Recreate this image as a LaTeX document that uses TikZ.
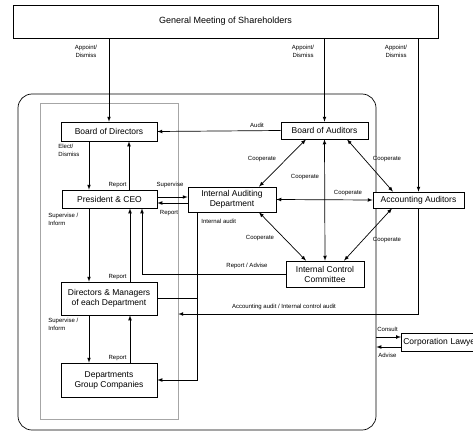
\documentclass[tikz,border=0pt]{standalone}
\usepackage{fontspec}
\setmainfont{Liberation Sans}
\begin{document}
\begin{tikzpicture}[>=latex, x=1pt, y=-1pt, line width=0.7pt,
  box/.style={draw, fill=white, inner sep=1pt, align=center, font=\fontsize{8.5}{10}\selectfont},
  lbl/.style={font=\fontsize{6}{8}\selectfont, inner sep=0pt, align=left}]
\useasboundingbox (0,0) rectangle (473,436);
\clip (0,0) rectangle (473,436);
% frames
\node[draw, rounded corners=14pt, minimum width=358pt, minimum height=336pt] (org) at (197,262) {};
\node[draw=gray!70, line width=0.5pt, minimum width=138pt, minimum height=316pt] (grp) at (109,261) {};
% boxes
\node[box, minimum width=425pt, minimum height=33pt, font=\fontsize{9}{11}\selectfont] (gms) at (225.5,21.5) {General Meeting of Shareholders};
\node[box, minimum width=96pt, minimum height=19pt] (bod) at (109,131.5) {Board of Directors};
\node[box, minimum width=95pt, minimum height=18pt] (pres) at (109.5,199) {President \& CEO};
\node[box, minimum width=96pt, minimum height=33pt] (dm) at (109,298.5) {Directors \& Managers\\of each Department};
\node[box, minimum width=96pt, minimum height=34pt] (dep) at (109,380) {Departments\\Group Companies};
\node[box, minimum width=87pt, minimum height=17pt] (boa) at (324.5,130.5) {Board of Auditors};
\node[box, minimum width=88pt, minimum height=25pt] (iad) at (232,199.5) {Internal Auditing\\Department};
\node[box, minimum width=91pt, minimum height=16pt] (aa) at (418.5,200) {Accounting Auditors};
\node[box, minimum width=78pt, minimum height=26pt] (icc) at (325,274) {Internal Control\\Committee};
\node[box, anchor=west, text width=84pt, minimum height=18pt, align=left, inner xsep=2pt] (law) at (401,342) {Corporation Lawyer};

% appointment
\draw[->] (gms.south -| bod.north) -- (bod.north);
\draw[->] (gms.south -| boa.north) -- (boa.north);
\draw[->] (gms.south -| aa.north) -- (aa.north);
\node[lbl, align=center] at (86,51) {Appoint/\\Dismiss};
\node[lbl, align=center] at (303,51) {Appoint/\\Dismiss};
\node[lbl, align=center] at (396,51) {Appoint/\\Dismiss};

% left column
\draw[->] (boa.west) -- (bod.east);
\node[lbl] at (257,125) {Audit};
\draw[->] (bod.south -| 89,0) -- (pres.north -| 89,0);
\node[lbl, anchor=north west] at (58,144) {Elect/\\Dismiss};
\draw[->] (pres.north -| 129,0) -- (bod.south -| 129,0);
\node[lbl, anchor=south east] at (127,188) {Report};
\draw[->] (pres.south -| 89,0) -- (dm.north -| 89,0);
\node[lbl, anchor=north west] at (48,213) {Supervise /\\Inform};
\draw[->] (dm.north -| 130,0) -- (pres.south -| 130,0);
\node[lbl, anchor=south east] at (127,280) {Report};
\draw[->] (dm.south -| 89,0) -- (dep.north -| 89,0);
\node[lbl, anchor=north west] at (48,318) {Supervise /\\Inform};
\draw[->] (dep.north -| 130,0) -- (dm.south -| 130,0);
\node[lbl, anchor=south east] at (127,361) {Report};

% president and internal auditing
\draw[->] (pres.east |- 0,197) -- (iad.west |- 0,197);
\node[lbl] at (170,185) {Supervise};
\draw[->] (iad.west |- 0,203) -- (pres.east |- 0,203);
\node[lbl] at (169,213) {Report};
\draw[->] (iad.south -| 197,0) |- (dep.east);
\draw (dm.east) -- (dm.east -| 197,0);
\node[lbl, anchor=west] at (201,221) {Internal audit};
\draw[->] (icc.west) -| (pres.south -| 142,0);
\node[lbl] at (247,266) {Report / Advise};

% cooperation
\draw[<->] (boa.south -| 306,0) -- (iad.north -| 259,0);
\draw[<->] (boa.south -| 347,0) -- (aa.north -| 393,0);
\draw[<->] (iad.south -| 259,0) -- (icc.north -| 306,0);
\draw[<->] (aa.south -| 392,0) -- (icc.north -| 344,0);
\draw[<->] (iad.east) -- (aa.west);
\draw[<->] (icc.north) -- (boa.south);
\node[lbl] at (262,159) {Cooperate};
\node[lbl] at (387,159) {Cooperate};
\node[lbl] at (305,177) {Cooperate};
\node[lbl] at (348,193) {Cooperate};
\node[lbl] at (260,238) {Cooperate};
\node[lbl] at (387,240) {Cooperate};

% external audit and lawyer
\draw[->] (aa.south) |- (grp.east |- 0,314);
\node[lbl] at (284,307) {Accounting audit / Internal control audit};
\draw[->] (org.east |- 0,337) -- (law.west |- 0,337);
\node[lbl, anchor=west] at (377,329) {Consult};
\draw[->] (law.west |- 0,347) -- (org.east |- 0,347);
\node[lbl, anchor=west] at (378,355) {Advise};
\end{tikzpicture}
\end{document}
